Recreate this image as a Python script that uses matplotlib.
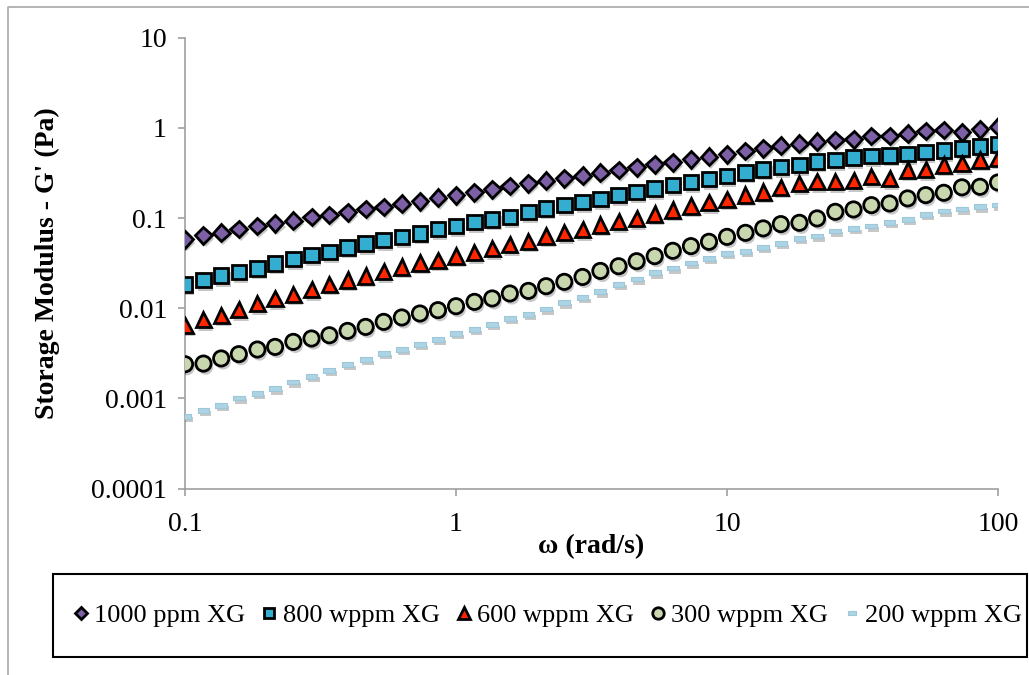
import matplotlib.pyplot as plt
from matplotlib import patheffects
from matplotlib.lines import Line2D
from matplotlib.patches import Rectangle
from matplotlib.ticker import FixedFormatter, FixedLocator, NullLocator

plt.rcParams["font.family"] = ["Liberation Serif", "DejaVu Serif"]

# angular frequency sweep, 15 points per decade
omega = [
    0.1, 0.117, 0.136, 0.158, 0.185, 0.215, 0.251, 0.293, 0.341, 0.398,
    0.464, 0.541, 0.631, 0.736, 0.858,
    1.0, 1.17, 1.36, 1.58, 1.85, 2.15, 2.51, 2.93, 3.41, 3.98,
    4.64, 5.41, 6.31, 7.36, 8.58,
    10.0, 11.7, 13.6, 15.8, 18.5, 21.5, 25.1, 29.3, 34.1, 39.8,
    46.4, 54.1, 63.1, 73.6, 85.8, 100.0,
]

g_1000 = [
    0.058, 0.064, 0.0686, 0.0753, 0.0813, 0.0871, 0.0931, 0.103, 0.108, 0.116,
    0.126, 0.133, 0.144, 0.153, 0.168,
    0.178, 0.192, 0.209, 0.226, 0.242, 0.259, 0.275, 0.294, 0.318, 0.340,
    0.365, 0.394, 0.414, 0.447, 0.478,
    0.508, 0.553, 0.592, 0.633, 0.667, 0.701, 0.732, 0.745, 0.811, 0.811,
    0.861, 0.922, 0.946, 0.891, 0.962, 1.028,
]
g_800 = [
    0.0183, 0.0205, 0.0229, 0.0253, 0.0276, 0.0314, 0.0350, 0.0388, 0.0422, 0.0472,
    0.0518, 0.0569, 0.0618, 0.0675, 0.0754,
    0.0819, 0.0908, 0.0965, 0.1031, 0.1172, 0.128, 0.139, 0.151, 0.162, 0.1795,
    0.195, 0.211, 0.232, 0.252, 0.270,
    0.292, 0.318, 0.346, 0.367, 0.389, 0.421, 0.439, 0.466, 0.486, 0.495,
    0.512, 0.539, 0.557, 0.592, 0.617, 0.656,
]
g_600 = [
    0.00648, 0.0075, 0.00836, 0.00968, 0.01128, 0.01282, 0.0143, 0.01614, 0.01846, 0.0205,
    0.0227, 0.0253, 0.0287, 0.0318, 0.0341,
    0.0380, 0.0411, 0.0460, 0.0509, 0.0554, 0.0630, 0.0685, 0.0747, 0.0834, 0.0908,
    0.0990, 0.1105, 0.1225, 0.1356, 0.1476,
    0.161, 0.1795, 0.195, 0.219, 0.242, 0.252, 0.252, 0.259, 0.287, 0.275,
    0.340, 0.346, 0.386, 0.403, 0.439, 0.459,
]
g_300 = [
    0.00239, 0.00243, 0.00277, 0.00309, 0.00348, 0.00372, 0.00423, 0.00461, 0.00501, 0.0056,
    0.0062, 0.00705, 0.00789, 0.00873, 0.00951,
    0.01052, 0.01175, 0.01282, 0.01456, 0.01556, 0.01754, 0.01959, 0.0222, 0.0259, 0.0292,
    0.0332, 0.0378, 0.0433, 0.0488, 0.0545,
    0.0618, 0.0685, 0.0767, 0.0856, 0.0885, 0.099, 0.1172, 0.1245, 0.139, 0.145,
    0.165, 0.1795, 0.1905, 0.219, 0.222, 0.248,
]
g_200 = [
    0.000633, 0.000738, 0.000838, 0.00101, 0.00113, 0.00128, 0.00152, 0.00176, 0.00205, 0.00237,
    0.0027, 0.00314, 0.00348, 0.00395, 0.00453,
    0.00524, 0.00581, 0.00659, 0.00769, 0.00858, 0.00982, 0.01146, 0.01315, 0.01518, 0.01846,
    0.0210, 0.0247, 0.0280, 0.0318, 0.0356,
    0.0405, 0.0429, 0.0472, 0.0522, 0.0594, 0.063, 0.0716, 0.0767, 0.0813, 0.0893,
    0.0964, 0.1096, 0.1193, 0.1256, 0.133, 0.139,
]

series_labels = ["1000 ppm XG", "800 wppm XG", "600 wppm XG", "300 wppm XG", "200 wppm XG"]
x_ticks = [0.1, 1, 10, 100]
x_tick_labels = ["0.1", "1", "10", "100"]
y_ticks = [0.0001, 0.001, 0.01, 0.1, 1, 10]
y_tick_labels = ["0.0001", "0.001", "0.01", "0.1", "1", "10"]

W, H = 1029, 675
fig = plt.figure(figsize=(W / 100, H / 100), dpi=100)
ax = fig.add_axes([185 / W, 1 - 488.5 / H, (998 - 185) / W, (488.5 - 37.7) / H])

shadow = [
    patheffects.SimplePatchShadow(offset=(1.5, -2.5), shadow_rgbFace="k", alpha=0.22),
    patheffects.Normal(),
]
dash = [(-1, -0.4), (1, -0.4), (1, 0.4), (-1, 0.4), (-1, -0.4)]

styles = [
    dict(marker="D", ms=8.5, mfc="#7D5FA6", mec="black", mew=2.0),
    dict(marker="s", ms=10.5, mfc="#33AED0", mec="black", mew=2.0),
    dict(marker="^", ms=11, mfc="#FF2600", mec="black", mew=2.0),
    dict(marker="o", ms=11, mfc="#C8D7AD", mec="black", mew=2.0),
    dict(marker=dash, ms=8.5, mfc="#ADD4E4", mec="#9CC8DA", mew=0.8),
]

handles = []
for y, label, st in zip([g_1000, g_800, g_600, g_300, g_200], series_labels, styles):
    (ln,) = ax.plot(omega, y, linestyle="none", label=label, zorder=3, **st)
    ln.set_path_effects(shadow)
    handles.append(Line2D([], [], linestyle="none", **st))

ax.set_xscale("log")
ax.set_yscale("log")
ax.set_xlim(0.1, 100)
ax.set_ylim(1e-4, 10)
ax.xaxis.set_major_locator(FixedLocator(x_ticks))
ax.xaxis.set_major_formatter(FixedFormatter(x_tick_labels))
ax.yaxis.set_major_locator(FixedLocator(y_ticks))
ax.yaxis.set_major_formatter(FixedFormatter(y_tick_labels))
ax.xaxis.set_minor_locator(NullLocator())
ax.yaxis.set_minor_locator(NullLocator())

for side in ["top", "right"]:
    ax.spines[side].set_visible(False)
for side in ["left", "bottom"]:
    ax.spines[side].set_color("#A0A0A0")
    ax.spines[side].set_linewidth(1.2)
ax.tick_params(direction="out", length=5, width=1.2, color="#A0A0A0",
               labelsize=20, labelcolor="black")
ax.tick_params(axis="x", pad=12)
ax.tick_params(axis="y", pad=8)

ax.set_xlabel("ω (rad/s)", fontsize=20, fontweight="bold")
ax.set_ylabel("Storage Modulus - G' (Pa)", fontsize=20, fontweight="bold")
ax.xaxis.set_label_coords(0.5, -0.102)
ax.yaxis.set_label_coords(-0.154, 0.5)

# legend entries spread across the box, frame drawn separately
leg = fig.legend(
    handles, series_labels, loc="center",
    bbox_to_anchor=(64 / W, 1 - 640 / H, 966 / W, 50 / H), mode="expand",
    borderaxespad=0, ncol=5, frameon=False, fontsize=19,
    handlelength=0.7, handletextpad=0.15, borderpad=0.3, markerscale=0.75,
)
fig.add_artist(Rectangle((53 / W, 1 - 657 / H), 974 / W, 83 / H,
                         transform=fig.transFigure, fill=False,
                         edgecolor="black", linewidth=1.5))

# outer chart-area border (only left and top edges show)
fig.add_artist(Line2D([8 / W, 8 / W, 1], [0, 1 - 7 / H, 1 - 7 / H],
                      transform=fig.transFigure, color="#A8A8A8", lw=1.2))

fig.savefig("out.png", dpi=100)
